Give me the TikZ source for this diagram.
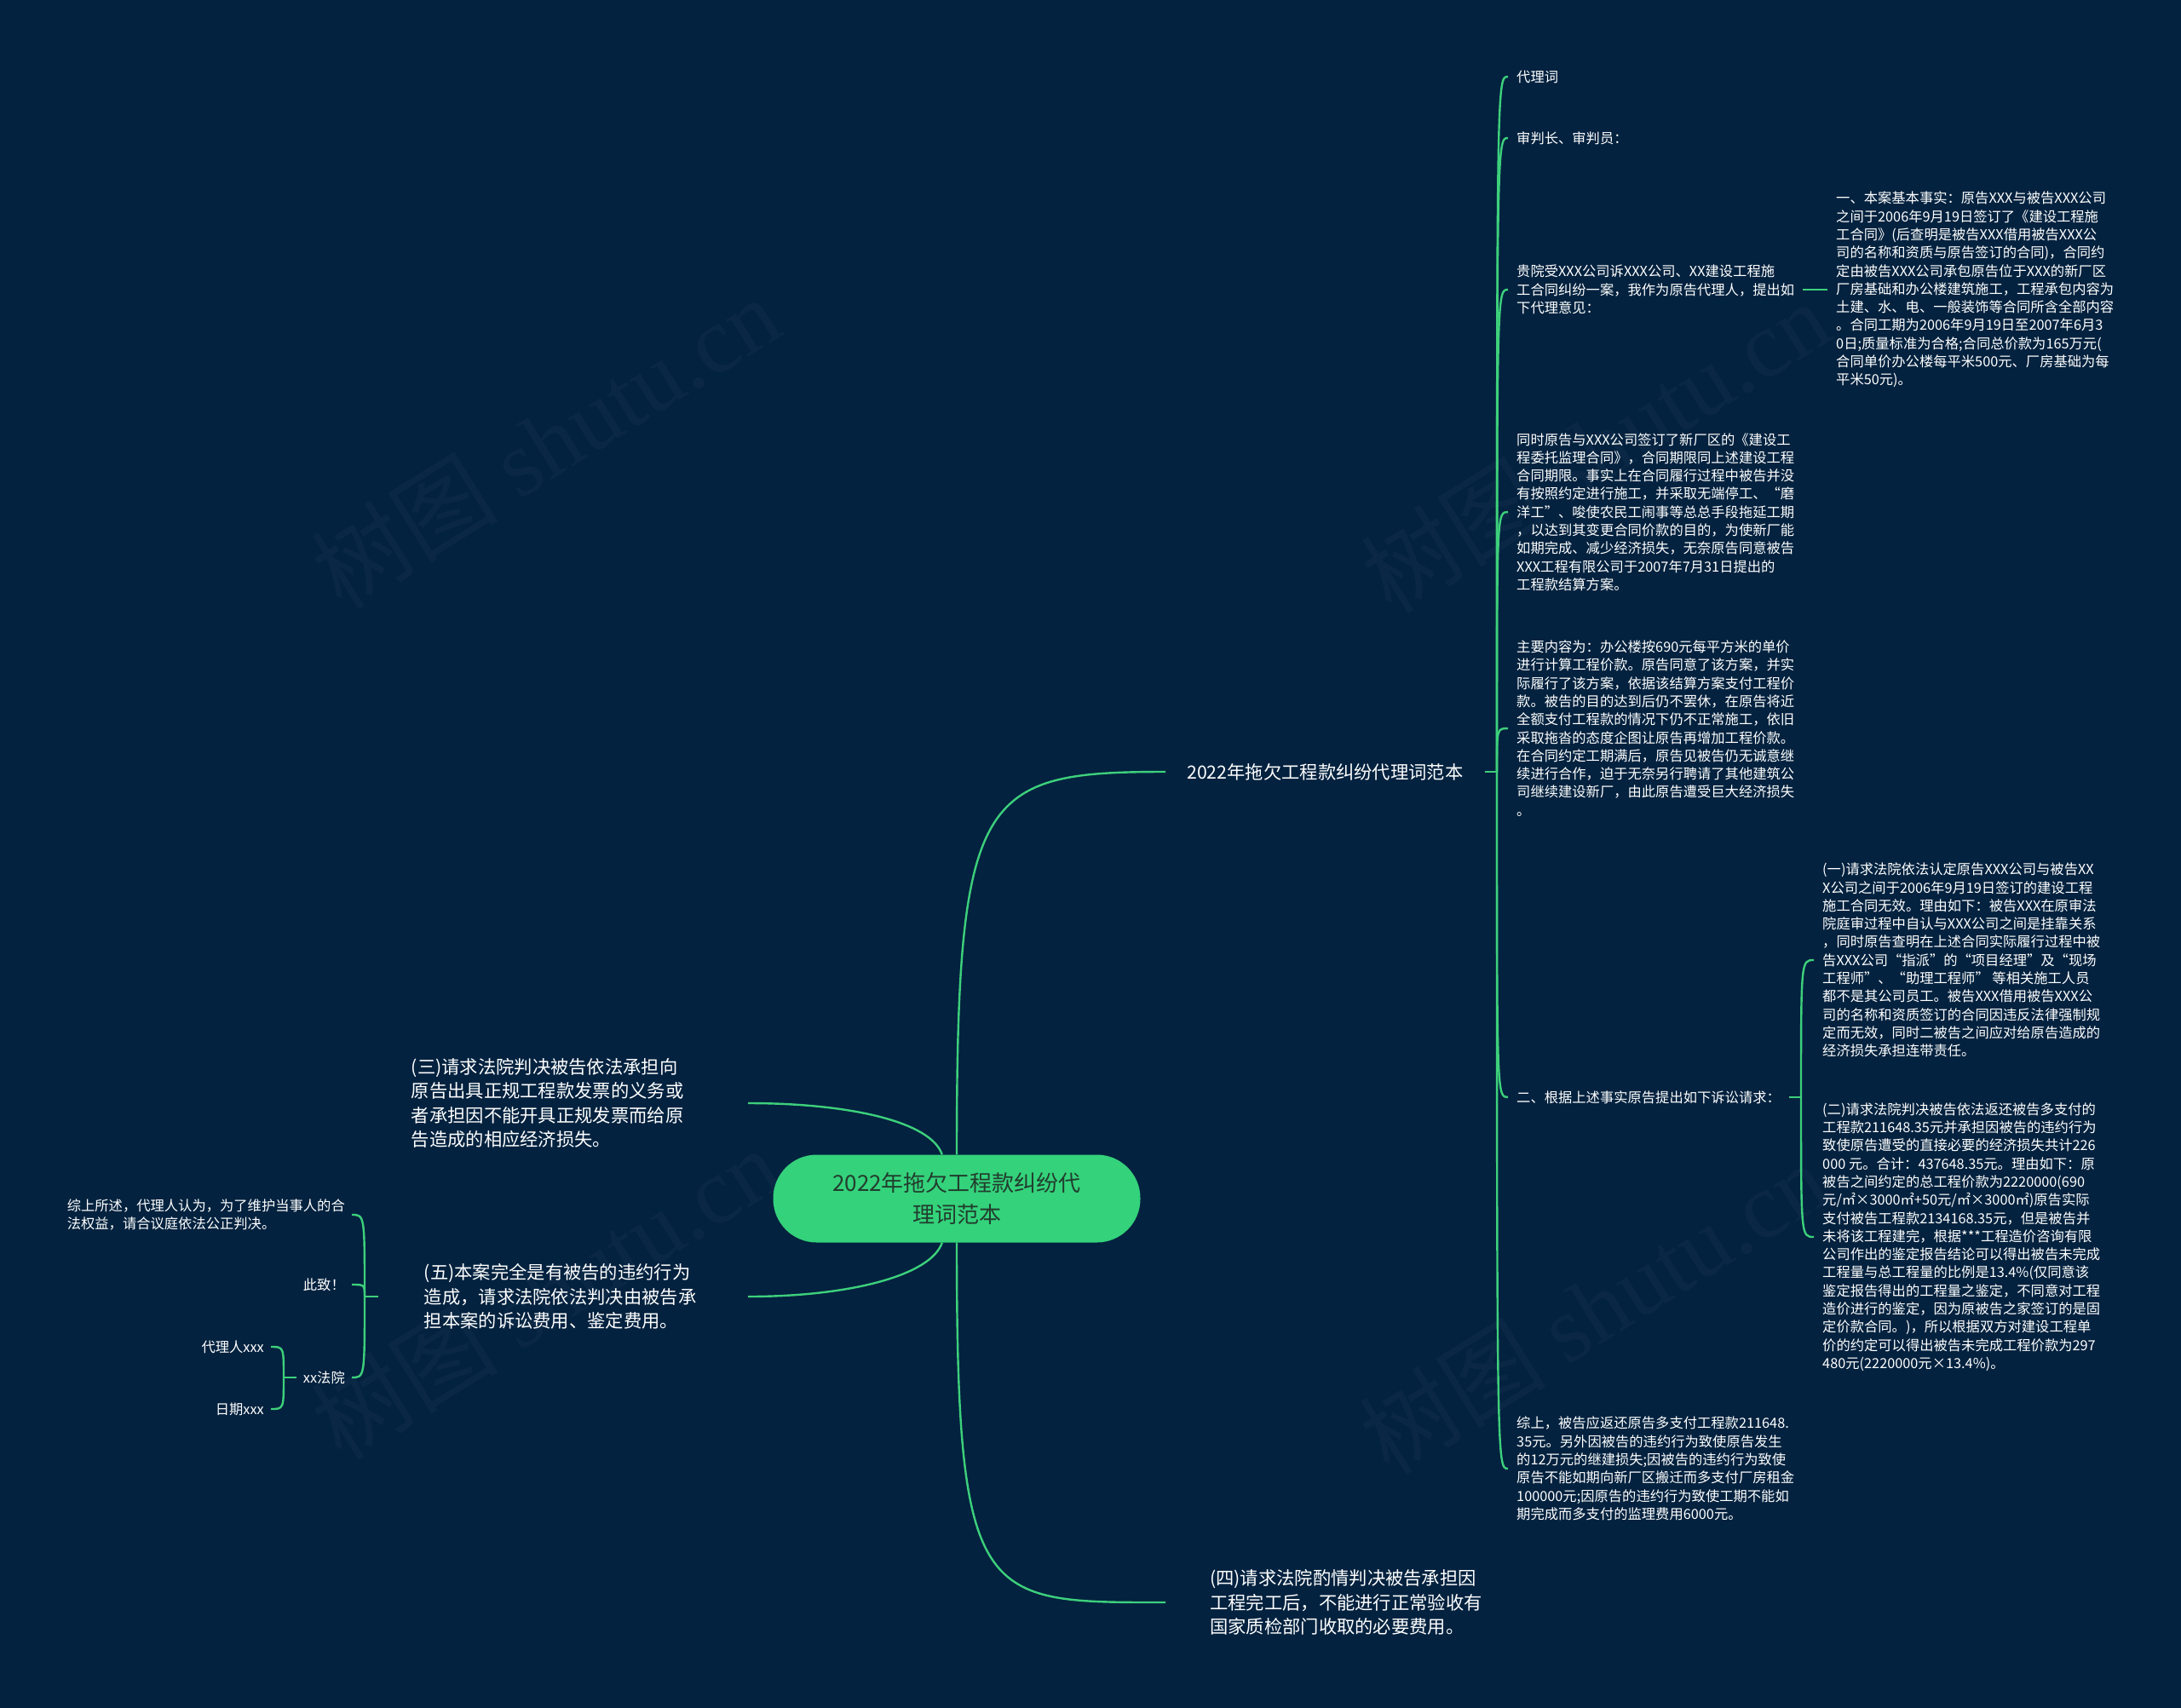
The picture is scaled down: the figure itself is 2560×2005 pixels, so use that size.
\documentclass[tikz,border=0pt]{standalone}
\usepackage{fontspec}
\setmainfont{Noto Sans CJK SC}
\newfontfamily\wmserif{Liberation Serif}
\definecolor{bg}{HTML}{03223F}
\definecolor{lnk}{HTML}{3DD07C}
\definecolor{rootfill}{HTML}{34D27B}
\definecolor{roottext}{HTML}{213D2E}
\begin{document}
\begin{tikzpicture}[x=1pt,y=-1pt,
  link/.style={draw=lnk, line width=2.4pt},
  leaf/.style={text=white, font=\fontsize{16.3}{21.3}\selectfont, align=left, inner xsep=10pt, inner ysep=3pt},
  lvl/.style={text=white, font=\fontsize{21.3}{28.5}\selectfont, align=left, inner ysep=3pt},
  wm/.style={text=white, opacity=0.032, rotate=32, font=\fontsize{110}{110}\selectfont}]
\useasboundingbox (0,0) rectangle (2560,2005);
\fill[bg] (0,0) rectangle (2560,2005);

% watermarks
\node[wm] (w1) at (640,519) {树图 {\wmserif shutu.cn}};
\node[wm] (w2) at (1872,524) {树图 {\wmserif shutu.cn}};
\node[wm] (w3) at (640,1518) {树图 {\wmserif shutu.cn}};
\node[wm] (w4) at (1870,1535) {树图 {\wmserif shutu.cn}};

% root
\node[fill=rootfill, rounded corners=51pt, minimum width=431pt, minimum height=103pt,
      text=roottext, font=\fontsize{26}{37}\selectfont, align=center] (root) at (1123,1407)
  {2022年拖欠工程款纠纷代\\理词范本};

% level 1
\node[lvl, anchor=west, inner xsep=25pt] (main) at (1368,906) {2022年拖欠工程款纠纷代理词范本};
\node[lvl, anchor=west, inner xsep=52pt] (p4) at (1368,1881)
  {(四)请求法院酌情判决被告承担因\\工程完工后，不能进行正常验收有\\国家质检部门收取的必要费用。};
\node[lvl, anchor=east, inner xsep=0pt, text width=395pt] (p3) at (878,1295)
  {(三)请求法院判决被告依法承担向\\原告出具正规工程款发票的义务或\\者承担因不能开具正规发票而给原\\告造成的相应经济损失。};
\node[lvl, anchor=east, inner xsep=0pt, text width=380pt] (p5) at (878,1522)
  {(五)本案完全是有被告的违约行为\\造成，请求法院依法判决由被告承\\担本案的诉讼费用、鉴定费用。};

% right leaves
\node[leaf, anchor=west] (a1) at (1770,90) {代理词};
\node[leaf, anchor=west] (a2) at (1770,162) {审判长、审判员：};
\node[leaf, anchor=west] (a3) at (1770,340)
  {贵院受XXX公司诉XXX公司、XX建设工程施\\工合同纠纷一案，我作为原告代理人，提出如\\下代理意见：};
\node[leaf, anchor=west] (a4) at (1770,601)
  {同时原告与XXX公司签订了新厂区的《建设工\\程委托监理合同》，合同期限同上述建设工程\\合同期限。事实上在合同履行过程中被告并没\\有按照约定进行施工，并采取无端停工、“磨\\洋工”、唆使农民工闹事等总总手段拖延工期\\，以达到其变更合同价款的目的，为使新厂能\\如期完成、减少经济损失，无奈原告同意被告\\XXX工程有限公司于2007年7月31日提出的\\工程款结算方案。};
\node[leaf, anchor=west] (a5) at (1770,855)
  {主要内容为：办公楼按690元每平方米的单价\\进行计算工程价款。原告同意了该方案，并实\\际履行了该方案，依据该结算方案支付工程价\\款。被告的目的达到后仍不罢休，在原告将近\\全额支付工程款的情况下仍不正常施工，依旧\\采取拖沓的态度企图让原告再增加工程价款。\\在合同约定工期满后，原告见被告仍无诚意继\\续进行合作，迫于无奈另行聘请了其他建筑公\\司继续建设新厂，由此原告遭受巨大经济损失\\。};
\node[leaf, anchor=west] (a6) at (1770,1288) {二、根据上述事实原告提出如下诉讼请求：};
\node[leaf, anchor=west] (a7) at (1770,1724)
  {综上，被告应返还原告多支付工程款211648.\\35元。另外因被告的违约行为致使原告发生\\的12万元的继建损失;因被告的违约行为致使\\原告不能如期向新厂区搬迁而多支付厂房租金\\100000元;因原告的违约行为致使工期不能如\\期完成而多支付的监理费用6000元。};

\node[leaf, anchor=west] (c1) at (2145,340)
  {一、本案基本事实：原告XXX与被告XXX公司\\之间于2006年9月19日签订了《建设工程施\\工合同》(后查明是被告XXX借用被告XXX公\\司的名称和资质与原告签订的合同)，合同约\\定由被告XXX公司承包原告位于XXX的新厂区\\厂房基础和办公楼建筑施工，工程承包内容为\\土建、水、电、一般装饰等合同所含全部内容\\。合同工期为2006年9月19日至2007年6月3\\0日;质量标准为合格;合同总价款为165万元(\\合同单价办公楼每平米500元、厂房基础为每\\平米50元)。};

\node[leaf, anchor=west] (b1) at (2129,1127)
  {(一)请求法院依法认定原告XXX公司与被告XX\\X公司之间于2006年9月19日签订的建设工程\\施工合同无效。理由如下：被告XXX在原审法\\院庭审过程中自认与XXX公司之间是挂靠关系\\，同时原告查明在上述合同实际履行过程中被\\告XXX公司“指派”的“项目经理”及“现场\\工程师”、“助理工程师” 等相关施工人员\\都不是其公司员工。被告XXX借用被告XXX公\\司的名称和资质签订的合同因违反法律强制规\\定而无效，同时二被告之间应对给原告造成的\\经济损失承担连带责任。};
\node[leaf, anchor=west] (b2) at (2129,1452)
  {(二)请求法院判决被告依法返还被告多支付的\\工程款211648.35元并承担因被告的违约行为\\致使原告遭受的直接必要的经济损失共计226\\000 元。合计：437648.35元。理由如下：原\\被告之间约定的总工程价款为2220000(690\\元/㎡×3000㎡+50元/㎡×3000㎡)原告实际\\支付被告工程款2134168.35元，但是被告并\\未将该工程建完，根据***工程造价咨询有限\\公司作出的鉴定报告结论可以得出被告未完成\\工程量与总工程量的比例是13.4\%(仅同意该\\鉴定报告得出的工程量之鉴定，不同意对工程\\造价进行的鉴定，因为原被告之家签订的是固\\定价款合同。)，所以根据双方对建设工程单\\价的约定可以得出被告未完成工程价款为297\\480元(2220000元×13.4\%)。};

% left leaves
\node[leaf, anchor=east, inner xsep=8pt] (d1) at (413,1426)
  {综上所述，代理人认为，为了维护当事人的合\\法权益，请合议庭依法公正判决。};
\node[leaf, anchor=east, inner xsep=8pt] (d2) at (413,1508) {此致！};
\node[leaf, anchor=east, inner xsep=8pt] (d3) at (413,1617) {xx法院};
\node[leaf, anchor=east, inner xsep=8pt] (e1) at (318,1581) {代理人xxx};
\node[leaf, anchor=east, inner xsep=8pt] (e2) at (318,1654) {日期xxx};

% connectors from root
\draw[link] (root) .. controls +(0,-477) and +(-218,0) .. (main.west);
\draw[link] (root) .. controls +(0,477) and +(-218,0) .. (p4.west);
\draw[link] (p3.east) .. controls +(120,0) and +(-30,-90) .. (root);
\draw[link] (p5.east) .. controls +(120,0) and +(-30,90) .. (root);

% right spine
\coordinate (R) at (1757,906);
\draw[link] (main.east) -- (R);
\foreach \n in {a1,a2,a3,a4,a5,a6,a7}
  \draw[link] (R) .. controls (R |- \n.west) .. (\n.west);
\draw[link] (a3.east) -- (c1.west);
\coordinate (B) at (2114,1288);
\draw[link] (a6.east) -- (B);
\foreach \n in {b1,b2}
  \draw[link] (B) .. controls (B |- \n.west) .. (\n.west);

% left bracket
\coordinate (L) at (428,1522);
\draw[link] ([xshift=-54pt]p5.west) -- (L);
\foreach \n in {d1,d2,d3}
  \draw[link] (L) .. controls (L |- \n.east) .. (\n.east);
\coordinate (L2) at (333,1617);
\draw[link] (d3.west) -- (L2);
\foreach \n in {e1,e2}
  \draw[link] (L2) .. controls (L2 |- \n.east) .. (\n.east);
\end{tikzpicture}
\end{document}
